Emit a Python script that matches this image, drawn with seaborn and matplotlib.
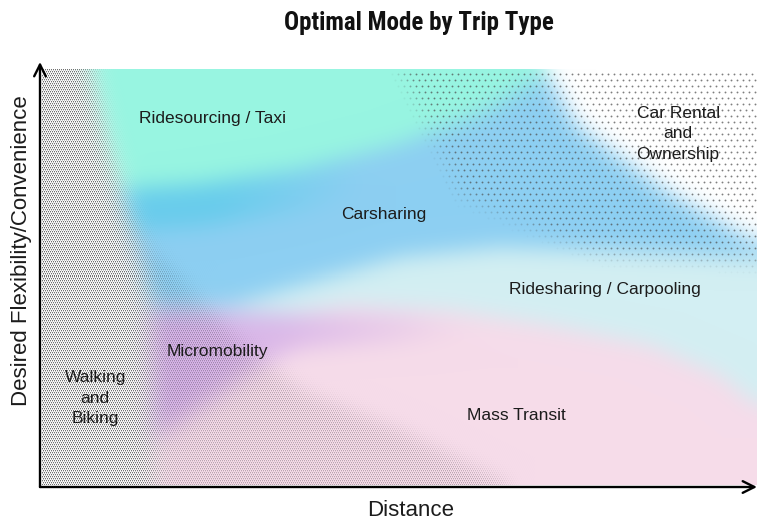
import numpy as np
import matplotlib
matplotlib.use("Agg")
import matplotlib.pyplot as plt
from matplotlib.colors import LinearSegmentedColormap
import seaborn as sns

# ---------------- data ----------------
title = "Optimal Mode by Trip Type"
x_label = "Distance"
y_label = "Desired Flexibility/Convenience"

modes = ["Walking\nand\nBiking", "Micromobility", "Ridesourcing / Taxi", "Carsharing",
         "Car Rental\nand\nOwnership", "Ridesharing / Carpooling", "Mass Transit"]
mode_x = [7.7, 24.8, 24.1, 48.0, 89.0, 78.8, 66.5]
mode_y = [20.9, 31.8, 86.6, 64.2, 83.1, 46.4, 16.9]

# region boundaries (distance 0-100, flexibility 0-100)
walk_by = [0, 44, 56, 68, 80, 98.1]            # walking edge: x as function of y
walk_bx = [16.0, 15.3, 13.5, 11.5, 9.5, 7.0]
tex_x = [10.2, 15.3, 22.3, 27.9, 36.3, 50.2, 64.2, 67.0]   # walking texture spill (below)
tex_y = [71.5, 55.8, 44.0, 33.9, 22.8, 13.4, 1.6, -1.0]
taxi_bx = [0, 11.2, 22.3, 36.3, 50.2, 61.4, 69.7, 72.0]     # ridesourcing (above)
taxi_by = [70, 69.9, 71.1, 74.6, 80.5, 87.5, 95.8, 105]
car_bx = [0, 13.9, 26.5, 36.3, 50.2, 64.2, 80.9, 100]       # carsharing (above)
car_by = [44, 42.8, 42.8, 47.5, 53.9, 56.2, 55.3, 53.9]
own_bx = [69.0, 70.2, 74.9, 87.5, 95.8, 100.6]              # car ownership (above)
own_by = [105, 98.1, 84.7, 69.2, 61.2, 56.9]
pool_bx = [29.3, 43.2, 57.2, 71.1, 85.1, 94.8, 100]         # ridesharing (above)
pool_by = [39.3, 42.8, 41.6, 38.1, 33.4, 26.4, 19.3]
micro_tx = [0, 26.5, 36.3, 50.2, 60.0]                      # micromobility top
micro_ty = [42.8, 41.5, 40.5, 40.5, 38.0]
micro_bx = [15.3, 18.1, 25.1, 30.7, 36.3, 50.2, 58.6]       # micromobility bottom
micro_by = [10.0, 14.0, 22.0, 29.0, 32.7, 34.1, 35.8]
dots_ly = [68.7, 79.3, 98.1]                                # ownership dot field left edge
dots_lx = [58.6, 55.8, 50.2]
dots_bx = [58.6, 78.1, 100]                                 # ownership dot field bottom
dots_by = [68.7, 54.6, 52.9]

# ---------------- colours ----------------
PINK = np.array([246, 220, 234]) / 255
CYAN = np.array([211, 239, 243]) / 255
PURPLE = np.array([208, 170, 232]) / 255
BLUE = np.array([141, 207, 242]) / 255
DEEP = np.array([104, 204, 236]) / 255
AQUA = np.array([152, 245, 225]) / 255
WHITE = np.array([255, 255, 255]) / 255
WALK = np.array([252, 252, 252]) / 255


def blur(a, sigma):
    r = int(3 * sigma)
    k = np.exp(-0.5 * (np.arange(-r, r + 1) / sigma) ** 2)
    k /= k.sum()
    extra = ((0, 0),) * (a.ndim - 2)
    p = np.pad(a, ((r, r), (0, 0)) + extra, mode="edge")
    out = np.zeros_like(a)
    for i, w in enumerate(k):
        out += w * p[i:i + a.shape[0]]
    p = np.pad(out, ((0, 0), (r, r)) + extra, mode="edge")
    out2 = np.zeros_like(a)
    for i, w in enumerate(k):
        out2 += w * p[:, i:i + a.shape[1]]
    return out2


sns.set_theme(style="white")

W, H, DPI = 761, 523, 100
fig = plt.figure(figsize=(W / DPI, H / DPI), dpi=DPI)
ax = fig.add_axes([40 / W, (H - 487) / H, 717 / W, 425 / H])
ax.set_xlim(0, 100)
ax.set_ylim(0, 100)
ax.axis("off")

# field grid
nx, ny = 715, 415
x0, x1, y0, y1 = 0.28, 100.0, 0.47, 98.12
xs = x0 + (np.arange(nx) + 0.5) * (x1 - x0) / nx
ys = y0 + (np.arange(ny) + 0.5) * (y1 - y0) / ny
X, Y = np.meshgrid(xs, ys)

C = np.empty((ny, nx, 3))
C[:] = PINK
C[Y > np.interp(X, pool_bx, pool_by)] = CYAN
zone = (Y > np.interp(X, micro_bx, micro_by)) & (Y < np.interp(X, micro_tx, micro_ty))
a = (np.interp(X, [15, 35, 62], [0.85, 0.7, 0.0]) * zone)[..., None]
C = C * (1 - a) + PURPLE * a
bb = np.interp(X, car_bx, car_by)
C[Y > bb] = BLUE
ab = np.interp(X, taxi_bx, taxi_by)
deep = ((Y > ab - 10) & (Y > bb)) * np.interp(X, [0, 25, 45], [1.0, 1.0, 0.0])
C = C * (1 - deep[..., None]) + DEEP * deep[..., None]
C[Y > ab] = AQUA
C[Y > np.interp(X, own_bx, own_by)] = WHITE
wb = np.interp(Y, walk_by, walk_bx)
C[X < wb] = WALK
C = blur(C, 11)

# walking / biking dense texture
T = np.zeros((ny, nx))
T[Y < np.interp(X, tex_x, tex_y)] = 0.45
T[X < wb] = 1.0
T = blur(T, 9)
I, J = np.meshgrid(np.arange(ny), np.arange(nx), indexing="ij")
pat = ((I % 2 == 0) & (J % 2 == (I // 2) % 2)).astype(float)
pat2 = ((I % 2 == 1) & ((J + 1) % 2 == ((I // 2) % 2))).astype(float)
img = C * (1 - (0.55 * pat + 0.2 * pat2) * T)[..., None]
ax.imshow(np.clip(img, 0, 1), extent=(x0, x1, y0, y1), origin="lower",
          interpolation="nearest", aspect="auto", zorder=0)

# car rental / ownership sparse dot field
S = np.zeros((ny, nx))
S[(X > np.interp(Y, dots_ly, dots_lx)) & (Y > np.interp(X, dots_bx, dots_by))] = 1.0
S = blur(S, 7)
di = np.arange(2, ny, 6)
pts_x, pts_y, pts_s = [], [], []
for k, i in enumerate(di):
    js = np.arange(2 + (3 if k % 2 else 0), nx, 6)
    sv = S[i, js]
    keep = sv > 0.04
    pts_x.extend(xs[js][keep]); pts_y.extend(np.full(keep.sum(), ys[i])); pts_s.extend(sv[keep])
dot_cmap = LinearSegmentedColormap.from_list("dots", [(0.3, 0.3, 0.3, 0.0), (0.3, 0.3, 0.3, 0.72)])
sns.scatterplot(x=pts_x, y=pts_y, hue=pts_s, palette=dot_cmap, hue_norm=(0, 1),
                s=1.8, linewidth=0, legend=False, ax=ax, zorder=2)

# axes arrows
arrow = dict(arrowstyle="->,head_length=0.7,head_width=0.35", lw=1.7, color="black",
             shrinkA=0, shrinkB=0)
ax.annotate("", xy=(0, 1), xytext=(0, 0), xycoords="axes fraction", arrowprops=arrow)
ax.annotate("", xy=(1, 0), xytext=(0, 0), xycoords="axes fraction", arrowprops=arrow)

# labels
for name, mx, my in zip(modes, mode_x, mode_y):
    ax.text(mx, my, name, ha="center", va="center", fontsize=12.5,
            family=["Liberation Sans", "DejaVu Sans"], color="#1c1c1c",
            linespacing=1.45, zorder=3)

fig.text(411 / W, 1 - 511 / H, x_label, ha="center", va="center", fontsize=16,
         family=["Liberation Sans", "DejaVu Sans"], color="#1c1c1c")
fig.text(22 / W, 1 - 251 / H, y_label, ha="center", va="center", fontsize=16,
         rotation=90, family=["Liberation Sans", "DejaVu Sans"], color="#1c1c1c")
fig.text(419 / W, 1 - 30 / H, title, ha="center", va="baseline", fontsize=18,
         fontweight="bold", fontstretch="condensed",
         family=["Liberation Sans Narrow", "Roboto Condensed", "DejaVu Sans"], color="#111111")

fig.savefig("out.png", dpi=DPI)
